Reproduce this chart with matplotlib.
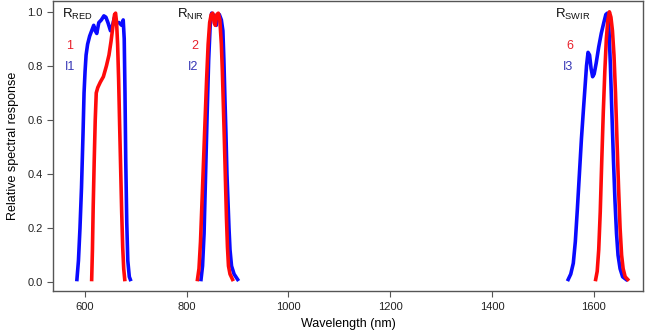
import numpy as np
import matplotlib
matplotlib.use("Agg")
from matplotlib import pyplot as plt

plt.rcParams['font.family'] = ['Liberation Sans', 'DejaVu Sans']
plt.rcParams['mathtext.fontset'] = 'custom'
plt.rcParams['mathtext.rm'] = 'Liberation Sans'
plt.rcParams['mathtext.it'] = 'Liberation Sans'

# band responses (wavelength nm, relative response)
blue1_wl = [584, 587, 590, 593, 596, 598, 600, 602, 605, 609, 613, 617, 620, 623, 627, 632, 637, 641, 645,
            650, 654, 658, 662, 667, 672, 675, 677, 678.5, 680, 682, 684, 687, 689]
blue1_r = [0.01, 0.08, 0.20, 0.35, 0.55, 0.70, 0.78, 0.84, 0.88, 0.91, 0.93, 0.95, 0.93, 0.92, 0.96, 0.97, 0.985, 0.98, 0.96,
           0.93, 0.95, 0.98, 0.96, 0.96, 0.95, 0.97, 0.90, 0.70, 0.45, 0.22, 0.08, 0.02, 0.01]
red1_wl = [613, 614.5, 616, 618, 620, 622, 625, 630, 636, 642, 647, 651, 655, 658, 660, 662, 664, 666, 668,
           670, 672, 674, 676, 678]
red1_r = [0.01, 0.12, 0.28, 0.45, 0.60, 0.70, 0.72, 0.74, 0.76, 0.80, 0.84, 0.89, 0.95, 0.99, 0.995, 0.96, 0.88, 0.75, 0.58,
          0.42, 0.26, 0.13, 0.05, 0.01]

blue2_wl = [828, 831, 834, 837, 840, 843, 846, 849, 852, 855, 858, 861, 864, 868, 871, 873, 875, 877, 879,
            881, 883, 885, 888, 893, 900]
blue2_r = [0.01, 0.06, 0.18, 0.40, 0.62, 0.82, 0.95, 0.995, 0.99, 0.97, 0.95, 0.98, 0.99, 0.97, 0.93, 0.82, 0.68, 0.55, 0.40,
           0.30, 0.20, 0.12, 0.06, 0.03, 0.01]
red2_wl = [821, 824, 827, 830, 833, 836, 839, 842, 845, 848, 851, 854, 856, 859, 862, 865, 868, 870, 872,
           874, 876, 878, 880, 882, 885, 890]
red2_r = [0.01, 0.05, 0.15, 0.30, 0.45, 0.60, 0.75, 0.88, 0.96, 0.99, 0.995, 0.96, 0.95, 0.99, 0.995, 0.97, 0.88, 0.78, 0.65,
          0.52, 0.38, 0.24, 0.13, 0.06, 0.03, 0.01]

blue3_wl = [1550, 1555, 1560, 1564, 1568, 1572, 1576, 1580, 1583, 1586, 1589, 1592, 1595, 1598, 1601, 1605, 1610,
            1615, 1620, 1624, 1627, 1630, 1633, 1636, 1639, 1642, 1645, 1648, 1652, 1657, 1664]
blue3_r = [0.01, 0.03, 0.07, 0.15, 0.27, 0.40, 0.53, 0.64, 0.72, 0.80, 0.85, 0.84, 0.79, 0.76, 0.77, 0.81, 0.87,
           0.92, 0.96, 0.99, 0.995, 0.94, 0.80, 0.62, 0.45, 0.30, 0.18, 0.10, 0.05, 0.02, 0.01]
red6_wl = [1604, 1607, 1610, 1613, 1616, 1619, 1622, 1625, 1628, 1631, 1634, 1637, 1640, 1643, 1646, 1649, 1652,
           1655, 1658, 1662, 1667]
red6_r = [0.01, 0.04, 0.12, 0.26, 0.45, 0.63, 0.78, 0.90, 0.97, 1.0, 0.98, 0.93, 0.84, 0.70, 0.52, 0.35, 0.20,
          0.10, 0.05, 0.02, 0.01]

band_names = ['RED', 'NIR', 'SWIR']
band_x = [555, 781, 1524]
red_labels = ['1', '2', '6']
red_label_x = [570, 815, 1553]
blue_labels = ['I1', 'I2', 'I3']
blue_label_x = [570, 813, 1549]

blue = '#0a0aff'
red = '#ff0a0a'

fig = plt.figure(figsize=(6.49, 3.35), dpi=100)
ax = fig.add_axes([0.0817, 0.131, 0.909, 0.866])

for wl, r in [(blue1_wl, blue1_r), (blue2_wl, blue2_r), (blue3_wl, blue3_r)]:
    ax.plot(wl, r, color=blue, lw=2.6, solid_joinstyle='round')
for wl, r in [(red1_wl, red1_r), (red2_wl, red2_r), (red6_wl, red6_r)]:
    ax.plot(wl, r, color=red, lw=2.6, solid_joinstyle='round')

for name, x in zip(band_names, band_x):
    ax.text(x, 0.99, r'R$_{\mathrm{' + name + '}}$', fontsize=9.5, color='#111111',
            ha='left', va='center')
for lab, x in zip(red_labels, red_label_x):
    ax.text(x, 0.875, lab, fontsize=9, color='#e8202a', ha='center', va='center')
for lab, x in zip(blue_labels, blue_label_x):
    ax.text(x, 0.797, lab, fontsize=9, color='#3535b5', ha='center', va='center')

ax.set_xlim(537, 1697)
ax.set_ylim(-0.033, 1.04)
ax.set_xticks([600, 800, 1000, 1200, 1400, 1600])
ax.set_yticks([0.0, 0.2, 0.4, 0.6, 0.8, 1.0])
ax.set_yticklabels(['0.0', '0.2', '0.4', '0.6', '0.8', '1.0'])
ax.tick_params(labelsize=8, length=4, color='#555555', labelcolor='#222222', direction='out')
for s in ax.spines.values():
    s.set_color('#555555')
    s.set_linewidth(1.0)
ax.set_xlabel('Wavelength (nm)', fontsize=9, labelpad=5)
ax.set_ylabel('Relative spectral response', fontsize=9, labelpad=6)

fig.savefig('out.png', dpi=100)
